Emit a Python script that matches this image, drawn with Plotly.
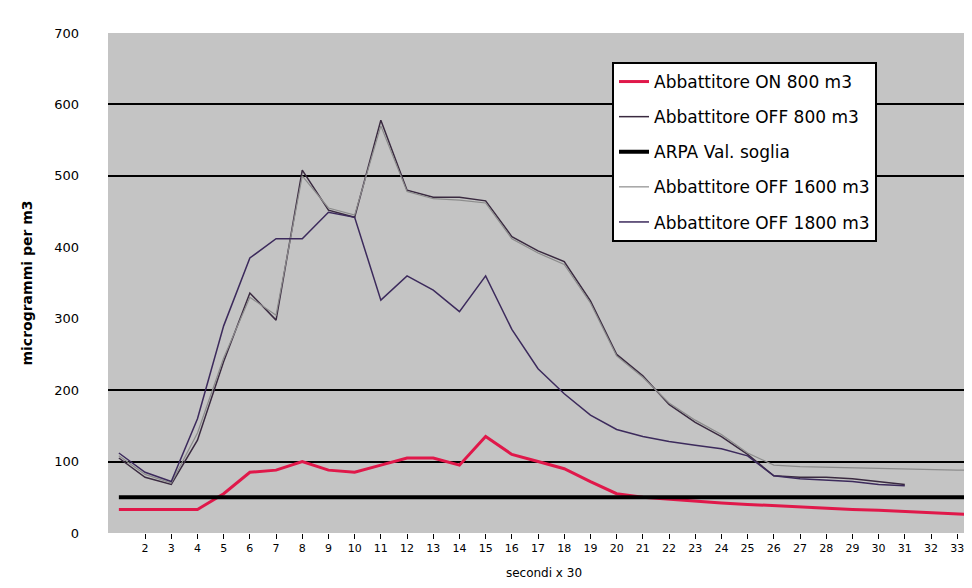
import plotly.graph_objects as go

# ---- data ----
x_on = list(range(1, 35))
on_800 = [33, 33, 33, 33, 55, 85, 88, 100, 88, 85, 95, 105, 105, 95, 135, 110, 100,
          90, 72, 55, 50, 47, 45, 42, 40, 38, 37, 35, 33, 32, 30, 28, 26, 25]

x_off800 = list(range(1, 32))
off_800 = [105, 78, 68, 130, 240, 336, 298, 508, 452, 442, 578, 480, 470, 470, 465, 415,
           395, 380, 325, 250, 220, 180, 155, 135, 110, 80, 78, 78, 76, 72, 68]

x_limit = list(range(1, 35))
limit_val = [50] * 34

x_off1600 = list(range(1, 35))
off_1600 = [108, 82, 70, 140, 245, 330, 305, 500, 455, 445, 570, 478, 468, 466, 462, 412,
            392, 376, 322, 248, 218, 182, 158, 138, 112, 95, 93, 92, 91, 90, 89, 88, 88, 88]

x_off1800 = list(range(1, 32))
off_1800 = [112, 85, 72, 160, 290, 385, 412, 412, 449, 442, 326, 360, 340, 310, 360, 285,
            230, 195, 165, 145, 135, 128, 123, 118, 108, 80, 76, 74, 72, 68, 66]

names = ["Abbattitore ON 800 m3", "Abbattitore OFF 800 m3", "ARPA Val. soglia",
         "Abbattitore OFF 1600 m3", "Abbattitore OFF 1800 m3"]

x_ticks = list(range(2, 34))
y_ticks = list(range(0, 800, 100))
grid_vals = [100, 200, 500, 600]

fig = go.Figure()
fig.add_trace(go.Scatter(x=x_on, y=on_800, name=names[0], mode="lines",
                         line=dict(color="#e0184a", width=3), legendgroup="a"))
fig.add_trace(go.Scatter(x=x_off800, y=off_800, name=names[1], mode="lines",
                         line=dict(color="#3a2a40", width=1.5), legendgroup="b"))
fig.add_trace(go.Scatter(x=x_limit, y=limit_val, name=names[2], mode="lines",
                         line=dict(color="#000000", width=4), legendgroup="c", yaxis="y2"))
fig.add_trace(go.Scatter(x=x_off1600, y=off_1600, name=names[3], mode="lines",
                         line=dict(color="#8c8c8c", width=1.2), legendgroup="d"))
fig.add_trace(go.Scatter(x=x_off1800, y=off_1800, name=names[4], mode="lines",
                         line=dict(color="#3c2a5c", width=1.5), legendgroup="e"))

fig.update_layout(
    width=972, height=588,
    margin=dict(l=100, r=0, t=25, b=63),
    paper_bgcolor="white",
    plot_bgcolor="#c4c4c4",
    font=dict(family="DejaVu Sans, Liberation Sans, Arial, sans-serif", color="#000000"),
    showlegend=True,
    legend=dict(x=0.578, y=0.942, xanchor="left", yanchor="top",
                bgcolor="white", bordercolor="black", borderwidth=2,
                font=dict(size=17), tracegroupgap=10),
    xaxis=dict(range=[0.585, 33.87], tickmode="array", tickvals=x_ticks,
               ticktext=[str(t) for t in x_ticks], tickfont=dict(size=11),
               ticks="outside", ticklen=5, tickcolor="black", showgrid=False,
               zeroline=False, showline=False,
               title=dict(text="secondi x 30", font=dict(size=12), standoff=14)),
    yaxis=dict(range=[0, 700], tickmode="array", tickvals=y_ticks,
               ticktext=[str(t) for t in y_ticks], tickfont=dict(size=13),
               ticklabelstandoff=28,
               showgrid=False, zeroline=False, showline=False,
               title=dict(text="<b>microgrammi per m3</b>", font=dict(size=14), standoff=18)),
    yaxis2=dict(range=[0, 700], overlaying="y", side="left", tickmode="array",
                tickvals=grid_vals, showticklabels=False, showgrid=True,
                gridcolor="#000000", gridwidth=2, zeroline=False, showline=False),
)

fig.write_html("out.html")
